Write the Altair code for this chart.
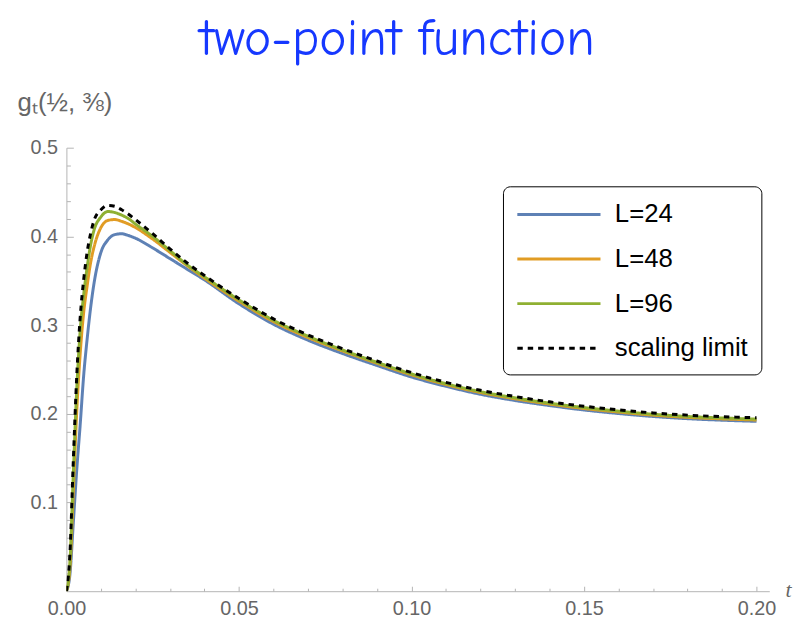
import altair as alt
import pandas as pd

t_vals = [0.0, 0.001, 0.002, 0.003, 0.004, 0.005, 0.006, 0.007, 0.008, 0.010,
          0.012, 0.014, 0.016, 0.018, 0.020, 0.025, 0.030, 0.035, 0.040, 0.050,
          0.060, 0.070, 0.080, 0.090, 0.100, 0.110, 0.120, 0.130, 0.140, 0.150,
          0.160, 0.170, 0.180, 0.190, 0.200]

g_L24 = [0.0, 0.018, 0.077, 0.137, 0.188, 0.243, 0.284, 0.319, 0.347, 0.382,
         0.396, 0.402, 0.403, 0.401, 0.398, 0.387, 0.375, 0.363, 0.351, 0.324,
         0.301, 0.283, 0.268, 0.2545, 0.2415, 0.231, 0.222, 0.215, 0.2093, 0.2043,
         0.2003, 0.197, 0.1945, 0.1928, 0.1915]

g_L48 = [0.0, 0.025, 0.112, 0.203, 0.268, 0.314, 0.344, 0.370, 0.388, 0.410,
         0.418, 0.419, 0.417, 0.414, 0.410, 0.397, 0.382, 0.367, 0.353, 0.327,
         0.304, 0.286, 0.271, 0.257, 0.244, 0.233, 0.224, 0.217, 0.211, 0.206,
         0.202, 0.1985, 0.196, 0.1943, 0.193]

g_L96 = [0.0, 0.031, 0.132, 0.228, 0.294, 0.334, 0.365, 0.390, 0.407, 0.422,
         0.428, 0.427, 0.424, 0.420, 0.414, 0.400, 0.384, 0.368, 0.3545, 0.3285,
         0.3055, 0.2875, 0.272, 0.258, 0.245, 0.234, 0.225, 0.218, 0.212, 0.207,
         0.203, 0.1995, 0.197, 0.1953, 0.194]

g_limit = [0.0, 0.041, 0.147, 0.243, 0.309, 0.351, 0.382, 0.403, 0.418, 0.430,
           0.435, 0.434, 0.430, 0.425, 0.419, 0.403, 0.386, 0.370, 0.356, 0.330,
           0.307, 0.289, 0.2735, 0.2595, 0.2465, 0.2355, 0.2265, 0.2195, 0.2135, 0.2085,
           0.2045, 0.201, 0.1985, 0.1968, 0.1955]

series_names = ["L=24", "L=48", "L=96", "scaling limit"]
series_colors = ["#5E81B5", "#E19C24", "#8FB032", "#000000"]
series_dash = [[1, 0], [1, 0], [1, 0], [5.5, 5]]
series_width = [3, 3, 3, 3.6]

x_ticks = [round(i * 0.01, 2) for i in range(0, 21)]
y_ticks = [round(i * 0.02, 2) for i in range(1, 26)]

rows = []
for name, vals in zip(series_names, [g_L24, g_L48, g_L96, g_limit]):
    for t, g in zip(t_vals, vals):
        rows.append({"t": t, "g": g, "series": name})
df = pd.DataFrame(rows)

x_major = "abs(datum.value*20 - round(datum.value*20)) < 1e-6"
y_major = "abs(datum.value*10 - round(datum.value*10)) < 1e-6"

axis_gray = "#b4b4b4"
label_gray = "#666666"

legend_kw = dict(title=None, orient="none", legendX=441, legendY=39,
                 symbolType="M-1,0H5", symbolSize=784,
                 symbolStrokeWidth=3, labelFontSize=26,
                 labelFont="Liberation Sans", labelColor="#000000",
                 rowPadding=16, padding=13, labelOffset=69,
                 strokeColor="#000000", cornerRadius=7, fillColor="white")

chart = alt.Chart(df).mark_line(clip=True, interpolate="monotone").encode(
    x=alt.X("t:Q",
            scale=alt.Scale(domain=[0, 0.2037], nice=False, zero=False),
            axis=alt.Axis(values=x_ticks,
                          labelExpr=x_major + " ? format(datum.value, '.2f') : ''",
                          grid=False, domainColor=axis_gray, tickColor=axis_gray,
                          tickSize={"condition": {"test": x_major, "value": -5}, "value": -3},
                          labelColor=label_gray, labelFontSize=20, labelFlush=False,
                          labelFont="Liberation Sans", labelPadding=13,
                          title="t", titleFont="Liberation Serif", titleFontStyle="italic",
                          titleFontWeight="normal", titleFontSize=22, titleColor=label_gray,
                          titleX=729, titleY=-2, titleAlign="center", titleBaseline="middle",
                          labelOverlap=False)),
    y=alt.Y("g:Q",
            scale=alt.Scale(domain=[0, 0.5], nice=False),
            axis=alt.Axis(values=y_ticks,
                          labelExpr=y_major + " ? format(datum.value, '.1f') : ''",
                          grid=False, domainColor=axis_gray, tickColor=axis_gray,
                          tickSize={"condition": {"test": y_major, "value": -7}, "value": -4},
                          labelColor=label_gray, labelFontSize=20, labelFlush=False,
                          labelFont="Liberation Sans", labelPadding=16,
                          title="gₜ(½, ⅜)", titleAngle=0, titleFont="Liberation Sans",
                          titleFontWeight="normal", titleFontSize=26, titleColor=label_gray,
                          titleX=-2, titleY=-46, titleAlign="center", titleBaseline="middle",
                          labelOverlap=False)),
    color=alt.Color("series:N",
                    scale=alt.Scale(domain=series_names, range=series_colors),
                    legend=alt.Legend(**legend_kw)),
    strokeDash=alt.StrokeDash("series:N",
                              scale=alt.Scale(domain=series_names, range=series_dash),
                              legend=alt.Legend(**legend_kw)),
    strokeWidth=alt.StrokeWidth("series:N",
                                scale=alt.Scale(domain=series_names, range=series_width),
                                legend=None),
    order=alt.Order("t:Q"),
).properties(
    width=710,
    height=448,
    autosize=alt.AutoSizeParams(type="none"),
    padding={"left": 59, "top": 138, "right": 27, "bottom": 29},
    title=alt.TitleParams("two-point function", fontSize=52,
                          font="Comic Neue, Comic Sans MS, Lato",
                          fontWeight="normal", color="#1638ff", anchor="middle",
                          frame="group", dx=-21, offset=24),
).configure_view(stroke=None)

chart.save("out.html", embed_options={"renderer": "svg", "actions": False})
